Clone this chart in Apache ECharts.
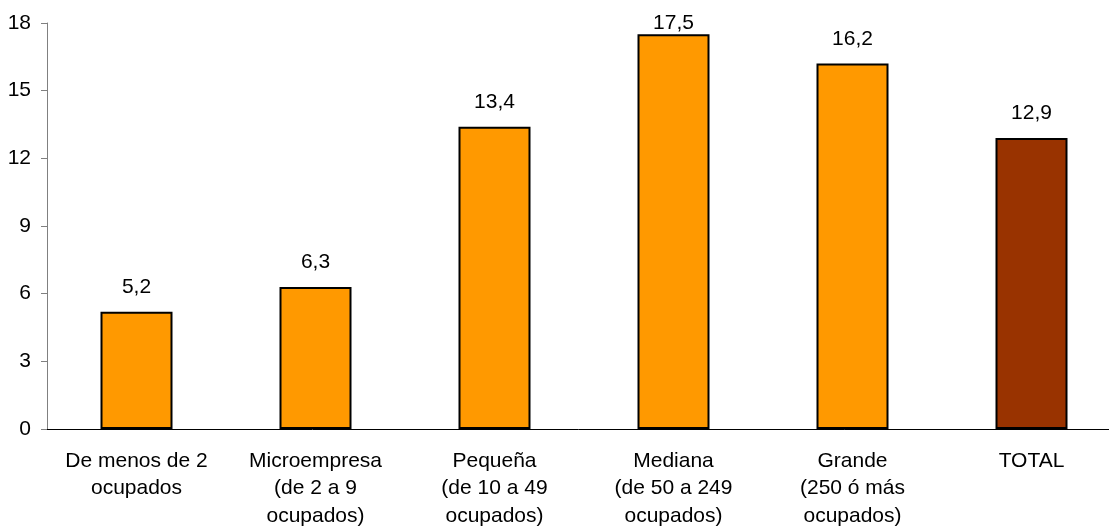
<!DOCTYPE html>
<html>
<head>
<meta charset="utf-8">
<script src="https://cdn.jsdelivr.net/npm/echarts@6/dist/echarts.min.js"></script>
<style>html,body{margin:0;padding:0;background:#fff}#c{width:1109px;height:531px}</style>
</head>
<body>
<div id="c"></div>
<script>
const categories = ["De menos de 2\nocupados", "Microempresa\n(de 2 a 9\nocupados)", "Pequeña\n(de 10 a 49\nocupados)", "Mediana\n(de 50 a 249\nocupados)", "Grande\n(250 ó más\nocupados)", "TOTAL"];
const values = [5.2, 6.3, 13.4, 17.5, 16.2, 12.9];
const barColors = ["#FF9900", "#FF9900", "#FF9900", "#FF9900", "#FF9900", "#993300"];
const yTicks = [0, 3, 6, 9, 12, 15, 18];

const chart = echarts.init(document.getElementById('c'), null, {renderer: 'canvas'});
const font = 'Liberation Sans, Arial, sans-serif';
const yMax = yTicks[yTicks.length - 1];
chart.setOption({
  animation: false,
  backgroundColor: '#fff',
  grid: {left: 47, top: 23, width: 1074, bottom: 102, containLabel: false, outerBoundsMode: 'none'},
  xAxis: {
    type: 'category',
    data: categories,
    axisLine: {lineStyle: {color: '#000', width: 1}},
    axisTick: {show: false},
    axisLabel: {color: '#000', fontFamily: font, fontSize: 21, lineHeight: 27.5, margin: 18, interval: 0, hideOverlap: false}
  },
  yAxis: {
    type: 'value',
    min: yTicks[0],
    max: yMax,
    interval: 3,
    splitLine: {show: false},
    axisLine: {show: true, lineStyle: {color: '#808080', width: 1}},
    axisTick: {show: true, length: 6, lineStyle: {color: '#808080'}},
    axisLabel: {color: '#000', fontFamily: font, fontSize: 21, margin: 16}
  },
  series: [{
    type: 'bar',
    data: values.map((v, i) => {
      const item = {value: v, itemStyle: {color: barColors[i]}};
      // labels near the top edge are pushed down to stay inside the picture
      if (v > yMax - 1) item.label = {distance: 1};
      return item;
    }),
    barWidth: 72,
    itemStyle: {borderColor: '#000', borderWidth: 2},
    label: {
      show: true,
      position: 'top',
      distance: 14,
      color: '#000',
      fontFamily: font,
      fontSize: 21,
      formatter: p => p.value.toFixed(1).replace('.', ',')
    }
  }]
});
</script>
</body>
</html>
